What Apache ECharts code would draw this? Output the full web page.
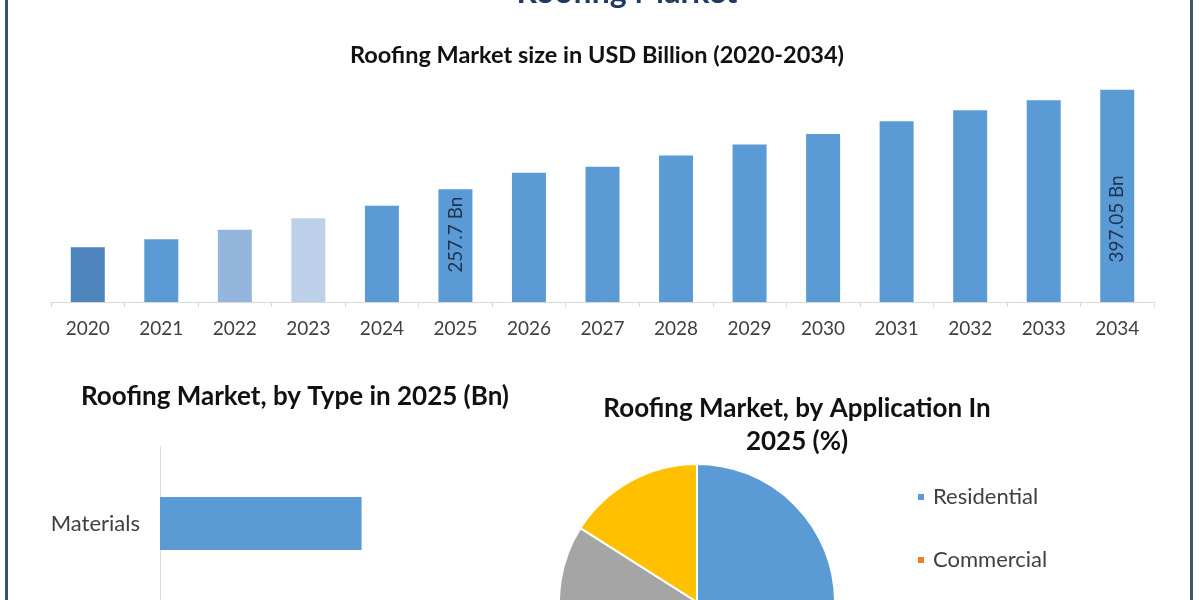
<!DOCTYPE html>
<html>
<head>
<meta charset="utf-8">
<script src="https://cdn.jsdelivr.net/npm/echarts@6/dist/echarts.min.js"></script>
<style>
html,body{margin:0;padding:0;background:#fff;}
#c{width:1200px;height:600px;}
</style>
</head>
<body>
<div id="c"></div>
<script>
// ---- data ----
const years = ['2020','2021','2022','2023','2024','2025','2026','2027','2028','2029','2030','2031','2032','2033','2034'];
const marketSize = [176.5, 187.7, 201.2, 217.1, 234.7, 257.7, 280.7, 289.1, 305.0, 320.4, 335.0, 352.8, 368.2, 382.2, 397.05];
const labelledYears = {'2025': '257.7 Bn', '2034': '397.05 Bn'};
const typeCategories = ['Materials'];
const typeValues = [168];
const appNames = ['Residential', 'Commercial', 'Industrial', 'Others'];
const appShares = [47, 24, 13, 16];

// ---- styles ----
const FONT = 'Lato, "Open Sans", sans-serif';
const barColors = {'2020': '#4d84bb', '2022': '#94b6dd', '2023': '#bcd0ea'};
const baseBlue = '#5b9bd5';
const pieColors = ['#5b9bd5', '#ed7d31', '#a5a5a5', '#ffc000'];
// offsets are in the rotated label frame (x points up the bar)
const labelOffsets = {'2025': [11, 0], '2034': [-23, 0]};

const chart = echarts.init(document.getElementById('c'), null, {renderer: 'canvas'});

const barData = years.map((y, i) => {
  const item = {value: marketSize[i], itemStyle: {color: barColors[y] || baseBlue}};
  if (labelledYears[y]) {
    item.label = {
      show: true, position: 'inside', rotate: 90,
      formatter: labelledYears[y], offset: labelOffsets[y],
      color: '#1f3251', fontSize: 19, fontFamily: FONT
    };
  }
  return item;
});

const option = {
  backgroundColor: '#ffffff',
  animation: false,
  graphic: [
    {type: 'rect', shape: {x: 5, y: 0, width: 3, height: 600}, style: {fill: '#37566b'}},
    {type: 'rect', shape: {x: 1190, y: 0, width: 3, height: 600}, style: {fill: '#3b5a61'}},
    {type: 'text', x: 627, y: 9, style: {text: 'Roofing Market', fill: '#1f3864', font: 'bold 32px ' + FONT, textAlign: 'center', textVerticalAlign: 'bottom'}},
    {type: 'text', x: 597, y: 55, style: {text: 'Roofing Market size in USD Billion (2020-2034)', fill: '#111', font: 'bold 23.5px ' + FONT, textAlign: 'center', textVerticalAlign: 'middle'}},
    {type: 'text', x: 295, y: 397, style: {text: 'Roofing Market, by Type in 2025 (Bn)', fill: '#111', font: 'bold 26px ' + FONT, textAlign: 'center', textVerticalAlign: 'middle'}},
    {type: 'text', x: 797, y: 409, style: {text: 'Roofing Market, by Application In', fill: '#111', font: 'bold 26px ' + FONT, textAlign: 'center', textVerticalAlign: 'middle'}},
    {type: 'text', x: 797, y: 442, style: {text: '2025 (%)', fill: '#111', font: 'bold 26px ' + FONT, textAlign: 'center', textVerticalAlign: 'middle'}}
  ],
  grid: [
    {left: 51, right: 46, top: 87.6, height: 214.4, containLabel: false},
    {left: 160, top: 447, width: 360, height: 153, containLabel: false}
  ],
  xAxis: [
    {
      gridIndex: 0, type: 'category', data: years,
      axisLine: {lineStyle: {color: '#d9d9d9', width: 1}},
      axisTick: {show: true, length: 5, lineStyle: {color: '#d9d9d9'}},
      axisLabel: {color: '#404040', fontSize: 19, fontFamily: FONT, margin: 17}
    },
    {
      gridIndex: 1, type: 'value', min: 0, max: 300, show: false
    }
  ],
  yAxis: [
    {gridIndex: 0, type: 'value', min: 100, max: 400, show: false},
    {
      gridIndex: 1, type: 'category', data: typeCategories,
      axisLine: {show: true, lineStyle: {color: '#d9d9d9'}},
      axisTick: {show: false},
      axisLabel: {color: '#404040', fontSize: 22, fontFamily: FONT, margin: 20}
    }
  ],
  legend: {
    orient: 'vertical', left: 911, top: 481, height: 400,
    itemWidth: 8, itemHeight: 8, itemGap: 41, icon: 'rect',
    data: appNames,
    textStyle: {color: '#404040', fontSize: 22, fontFamily: FONT, lineHeight: 22, padding: [0, 0, 0, 3]}
  },
  series: [
    {
      type: 'bar', xAxisIndex: 0, yAxisIndex: 0, data: barData, barWidth: 34,
      label: {show: false}
    },
    {
      type: 'bar', xAxisIndex: 1, yAxisIndex: 1, data: typeValues, barWidth: 53,
      itemStyle: {color: baseBlue}
    },
    {
      type: 'pie', center: [697, 602], radius: 138, startAngle: 90, clockwise: true,
      label: {show: false}, labelLine: {show: false},
      itemStyle: {borderColor: '#ffffff', borderWidth: 2},
      data: appNames.map((n, i) => ({name: n, value: appShares[i], itemStyle: {color: pieColors[i]}}))
    }
  ]
};
chart.setOption(option);
</script>
</body>
</html>
